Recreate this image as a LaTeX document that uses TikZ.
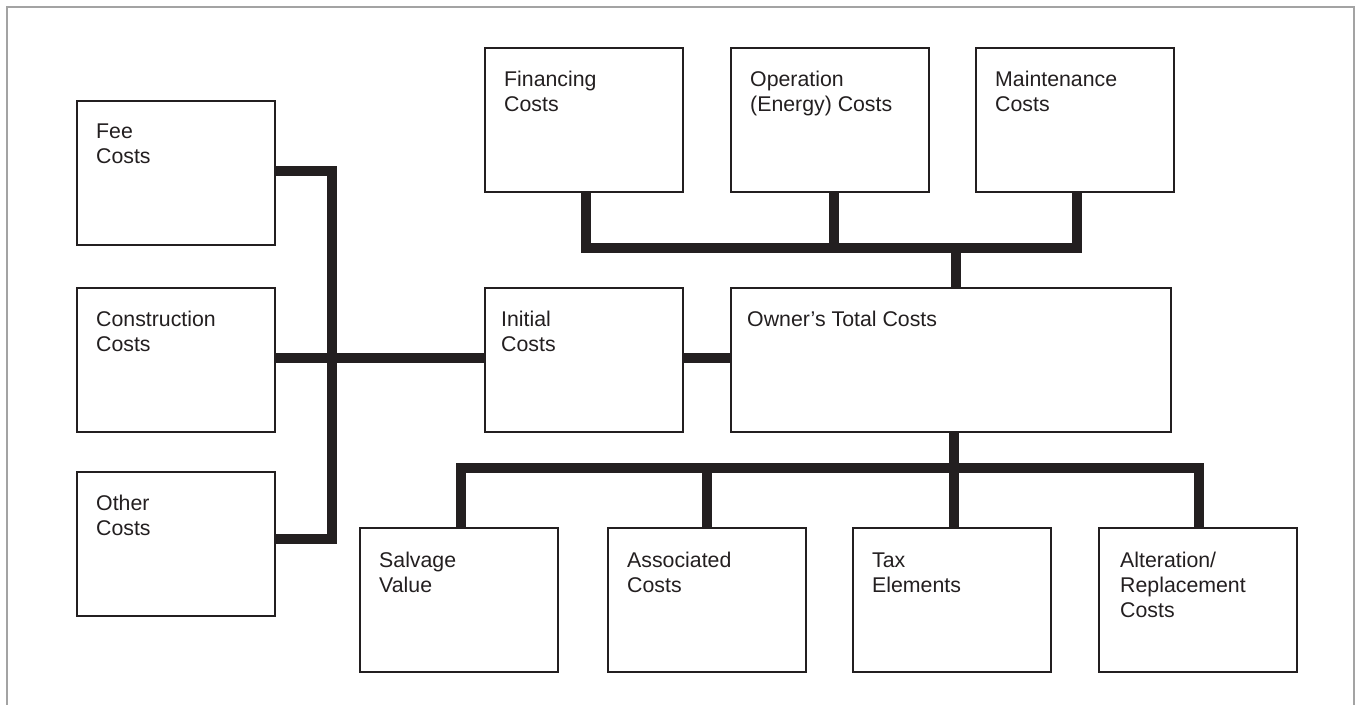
\documentclass[tikz,border=0pt]{standalone}
\usepackage{fontspec}
\setmainfont{Liberation Sans}
\definecolor{ink}{HTML}{231F20}
\definecolor{framegray}{HTML}{A3A3A3}
\newcommand{\cbx}[1]{\vtop{\halign{##\hfil\cr#1\crcr}}}
\begin{document}
\begin{tikzpicture}[x=1pt,y=-1pt,
  box/.style={draw=ink,line width=2.3pt,anchor=north west,inner sep=0pt,
    minimum width=198pt,minimum height=144pt,fill=white},
  txt/.style={anchor=base west,inner sep=0pt,text=ink,
    font=\fontsize{21.3}{25}\selectfont},
  conn/.style={draw=ink,line width=10pt,line join=miter,line cap=butt},
  frame/.style={draw=framegray,line width=2.5pt}]
\useasboundingbox (0,0) rectangle (1356,704);
% outer frame
\draw[frame] (7,706) -- (7,7) -- (1354,7) -- (1354,706);

% boxes
\node[box] (fee) at (76,100) {};
\node[box] (con) at (76,287) {};
\node[box] (oth) at (76,471) {};
\node[box] (ini) at (484,287) {};
\node[box,minimum width=440pt] (own) at (730,287) {};
\node[box] (fin) at (484,47) {};
\node[box] (ope) at (730,47) {};
\node[box] (mai) at (975,47) {};
\node[box] (sal) at (359,527) {};
\node[box] (aso) at (607,527) {};
\node[box] (tax) at (852,527) {};
\node[box] (alt) at (1098,527) {};

% texts
\node[txt] (feet) at ([shift={(20pt,-38pt)}]fee.north west) {\cbx{Fee\cr Costs}};
\node[txt] (cont) at ([shift={(20pt,-39pt)}]con.north west) {\cbx{Construction\cr Costs}};
\node[txt] (otht) at ([shift={(20pt,-39pt)}]oth.north west) {\cbx{Other\cr Costs}};
\node[txt] (init) at ([shift={(17pt,-39pt)}]ini.north west) {\cbx{Initial\cr Costs}};
\node[txt] (ownt) at ([shift={(17pt,-39pt)}]own.north west) {\cbx{Owner’s Total Costs}};
\node[txt] (fint) at ([shift={(20pt,-39pt)}]fin.north west) {\cbx{Financing\cr Costs}};
\node[txt] (opet) at ([shift={(20pt,-39pt)}]ope.north west) {\cbx{Operation\cr (Energy) Costs}};
\node[txt] (mait) at ([shift={(20pt,-39pt)}]mai.north west) {\cbx{Maintenance\cr Costs}};
\node[txt] (salt) at ([shift={(20pt,-40pt)}]sal.north west) {\cbx{Salvage\cr Value}};
\node[txt] (asot) at ([shift={(20pt,-40pt)}]aso.north west) {\cbx{Associated\cr Costs}};
\node[txt] (taxt) at ([shift={(20pt,-40pt)}]tax.north west) {\cbx{Tax\cr Elements}};
\node[txt] (altt) at ([shift={(22pt,-40pt)}]alt.north west) {\cbx{Alteration/\cr Replacement\cr Costs}};

% bus coordinates
\coordinate (lbus) at (332,0);
\coordinate (tbus) at (0,248);
\coordinate (bbus) at (0,468);

% left tree
\draw[conn] ([yshift=2pt]fee.east) -- ([yshift=2pt]fee.east -| lbus)
  -- ([yshift=5pt]oth.east -| lbus) -- ([yshift=5pt]oth.east);
\draw[conn] ([yshift=2pt]con.east) -- ([yshift=2pt]ini.west);
\draw[conn] ([yshift=2pt]ini.east) -- ([yshift=2pt]own.west);

% top tree
\draw[conn] ([xshift=2pt]fin.south) -- ([xshift=2pt]fin.south |- tbus)
  -- ([xshift=2pt]mai.south |- tbus) -- ([xshift=2pt]mai.south);
\draw[conn] ([xshift=4pt]ope.south) -- ([xshift=4pt]ope.south |- tbus);
\draw[conn] ([xshift=5pt]own.north) -- ([xshift=5pt]own.north |- tbus);

% bottom tree
\draw[conn] ([xshift=2pt]sal.north) -- ([xshift=2pt]sal.north |- bbus)
  -- ([xshift=1pt]alt.north |- bbus) -- ([xshift=1pt]alt.north);
\draw[conn] (aso.north) -- (aso.north |- bbus);
\draw[conn] ([xshift=2pt]tax.north) -- ([xshift=2pt]tax.north |- bbus);
\draw[conn] ([xshift=3pt]own.south) -- ([xshift=3pt]own.south |- bbus);
\end{tikzpicture}
\end{document}
